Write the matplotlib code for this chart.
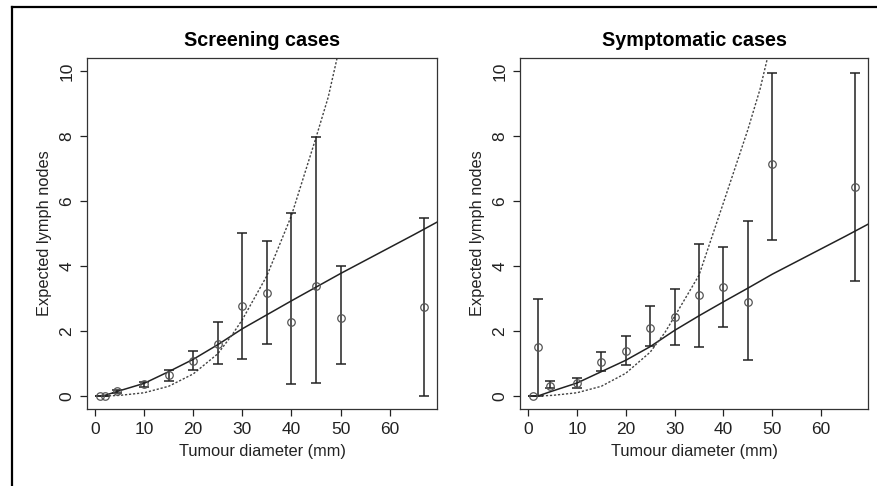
import numpy as np
import matplotlib
matplotlib.use("Agg")
import matplotlib.pyplot as plt
from matplotlib.lines import Line2D

plt.rcParams['font.family'] = ['Liberation Sans', 'DejaVu Sans']

# --- datos ---
diam = [1, 2, 4.5, 10, 15, 20, 25, 30, 35, 40, 45, 50, 67]

scr_mean = [0.0, 0.0, 0.16, 0.36, 0.65, 1.08, 1.59, 2.77, 3.16, 2.28, 3.38, 2.39, 2.75]
scr_lo = [0.0, 0.0, 0.10, 0.28, 0.45, 0.80, 1.00, 1.14, 1.60, 0.36, 0.39, 1.00, 0.0]
scr_hi = [0.0, 0.0, 0.20, 0.42, 0.80, 1.38, 2.28, 5.03, 4.77, 5.64, 7.98, 4.01, 5.49]

sym_mean = [0.0, 1.52, 0.32, 0.41, 1.06, 1.38, 2.08, 2.44, 3.10, 3.36, 2.89, 7.13, 6.44]
sym_lo = [0.0, 0.0, 0.24, 0.24, 0.77, 0.97, 1.55, 1.57, 1.50, 2.13, 1.11, 4.80, 3.55]
sym_hi = [0.0, 2.98, 0.46, 0.56, 1.35, 1.85, 2.78, 3.30, 4.68, 4.59, 5.39, 9.95, 9.95]

# curva continua (modelo lineal) y punteada (modelo cubico)
solid_x = [2, 4.5, 10, 15, 20, 25, 30, 35, 40, 45, 50, 55, 60, 65, 70]
scr_solid_y = [0.02, 0.14, 0.39, 0.75, 1.13, 1.58, 2.07, 2.50, 2.93, 3.35, 3.77, 4.17, 4.57, 4.97, 5.38]
sym_solid_y = [0.0, 0.13, 0.40, 0.75, 1.10, 1.52, 2.02, 2.47, 2.90, 3.32, 3.75, 4.14, 4.53, 4.92, 5.32]

scr_dot_x = [2, 5, 10, 15, 20, 25, 28, 30, 35, 40, 45, 47.5, 49.3]
scr_dot_y = [0.0, 0.02, 0.10, 0.30, 0.68, 1.30, 1.90, 2.35, 3.70, 5.55, 7.95, 9.20, 10.40]
sym_dot_x = [2, 5, 10, 15, 20, 25, 28, 30, 35, 40, 45, 47.5, 49.0]
sym_dot_y = [0.0, 0.02, 0.10, 0.30, 0.70, 1.35, 1.95, 2.45, 3.72, 5.95, 8.20, 9.45, 10.40]

xticks = [0, 10, 20, 30, 40, 50, 60]
yticks = [0, 2, 4, 6, 8, 10]

ink = '#222222'

fig = plt.figure(figsize=(8.77, 4.86), dpi=100)


def panel(rect, title, mean, lo, hi, sx, sy, dx, dy):
    ax = fig.add_axes(rect)
    ax.plot(sx, sy, color=ink, lw=1.1, zorder=2)
    ax.plot(dx, dy, color='#444444', lw=1.0, ls=(0, (1.6, 1.3)), zorder=2)
    mean = np.array(mean)
    yerr = [mean - np.array(lo), np.array(hi) - mean]
    ax.errorbar(diam, mean, yerr=yerr, fmt='none', ecolor=ink, elinewidth=1.1,
                capsize=3.6, capthick=1.1, zorder=3)
    ax.plot(diam, mean, 'o', ms=5.4, mfc='none', mec='#555555', mew=0.9, zorder=4)

    ax.set_xlim(-1.64, 69.64)
    ax.set_ylim(-0.4, 10.4)
    ax.set_xticks(xticks)
    ax.set_yticks(yticks)
    ax.set_yticklabels([str(v) for v in yticks], rotation=90, va='center')
    ax.tick_params(direction='out', length=5, width=0.9, colors=ink,
                   labelsize=12.5)
    ax.tick_params(axis='x', pad=4.5)
    ax.tick_params(axis='y', pad=4.2)
    for s in ax.spines.values():
        s.set_linewidth(0.9)
        s.set_color('#333333')
    ax.set_xlabel('Tumour diameter (mm)', fontsize=11.8, color=ink, labelpad=5)
    ax.set_ylabel('Expected lymph nodes', fontsize=11.8, color=ink, labelpad=5)
    ax.set_title(title, fontsize=14.2, fontweight='bold', color='black', pad=9)
    return ax


panel([0.0992, 0.1584, 0.399, 0.722], 'Screening cases',
      scr_mean, scr_lo, scr_hi, solid_x, scr_solid_y, scr_dot_x, scr_dot_y)
panel([0.593, 0.1584, 0.397, 0.722], 'Symptomatic cases',
      sym_mean, sym_lo, sym_hi, solid_x, sym_solid_y, sym_dot_x, sym_dot_y)

# marco exterior (solo lado izquierdo y superior visibles)
fig.add_artist(Line2D([12 / 877, 12 / 877], [0, 1 - 7 / 486], transform=fig.transFigure,
                      color='black', lw=1.6))
fig.add_artist(Line2D([12 / 877, 1], [1 - 7 / 486, 1 - 7 / 486], transform=fig.transFigure,
                      color='black', lw=1.6))

fig.savefig('out.png', dpi=100)
